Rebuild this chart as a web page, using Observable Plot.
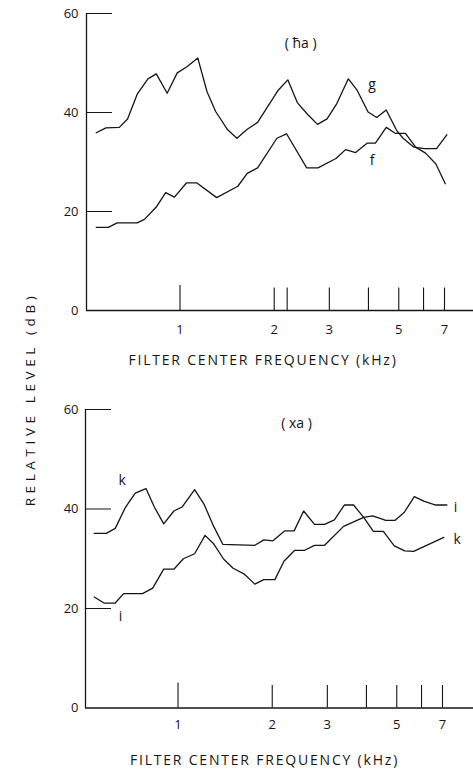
<!DOCTYPE html>
<html>
<head>
<meta charset="utf-8">
<script src="https://cdn.jsdelivr.net/npm/d3@7"></script>
<script src="https://cdn.jsdelivr.net/npm/@observablehq/plot@0.6"></script>
<style>
  body { margin: 0; background: #fff; }
  #fig { position: relative; width: 473px; height: 774px; font-family: "Open Sans", sans-serif; color: #111; background: #fff; }
  #fig svg { display: block; position: absolute; left: 0; z-index: 1; }
  #ylab {
    position: absolute; left: 30px; top: 399px; z-index: 5;
    transform: translate(-50%, -50%) rotate(-90deg);
    white-space: nowrap; font-size: 13.5px; letter-spacing: 4.6px; color: #151515;
  }
</style>
</head>
<body>
<div id="fig"><div id="ylab">RELATIVE LEVEL (dB)</div></div>
<script>
// Spectra of the two pharyngeal fricatives, level (dB) per filter centre frequency (kHz)

// (ħa) panel
const gFreq  = [0.54, 0.58, 0.64, 0.68, 0.73, 0.79, 0.84, 0.91, 0.98, 1.05, 1.14, 1.22, 1.30, 1.42, 1.52, 1.64, 1.77, 2.06, 2.21, 2.37, 2.55, 2.75, 2.95, 3.17, 3.45, 3.68, 3.99, 4.25, 4.56, 4.92, 5.16, 5.59, 6.04, 6.60, 7.12];
const gLevel = [35.9, 36.9, 37.0, 38.7, 43.7, 46.8, 47.8, 43.9, 48.0, 49.2, 51.0, 44.2, 40.2, 36.5, 34.8, 36.6, 38.0, 44.5, 46.6, 42.0, 39.7, 37.6, 38.7, 41.8, 46.8, 44.5, 40.1, 39.0, 40.5, 36.4, 34.8, 33.0, 32.7, 32.7, 35.5];
const fFreq  = [0.54, 0.59, 0.63, 0.73, 0.77, 0.84, 0.90, 0.96, 1.05, 1.13, 1.31, 1.53, 1.64, 1.77, 2.04, 2.19, 2.54, 2.76, 3.15, 3.38, 3.64, 3.96, 4.21, 4.56, 4.87, 5.25, 5.66, 6.09, 6.57, 7.04];
const fLevel = [16.8, 16.8, 17.7, 17.7, 18.4, 20.9, 23.8, 22.9, 25.8, 25.8, 22.8, 25.1, 27.7, 28.8, 34.8, 35.7, 28.8, 28.8, 30.7, 32.5, 31.9, 33.8, 33.8, 37.0, 35.8, 35.8, 33.0, 31.8, 29.6, 25.6];

// (xa) panel
const kFreq  = [0.54, 0.59, 0.63, 0.68, 0.73, 0.79, 0.84, 0.90, 0.97, 1.03, 1.13, 1.21, 1.30, 1.39, 1.76, 1.88, 2.01, 2.19, 2.35, 2.52, 2.73, 2.94, 3.16, 3.40, 3.64, 3.92, 4.21, 4.53, 4.91, 5.30, 5.66, 7.07];
const kLevel = [35.1, 35.1, 36.1, 40.4, 43.2, 44.1, 40.4, 37.0, 39.6, 40.4, 43.9, 41.0, 36.5, 32.9, 32.7, 33.8, 33.6, 35.6, 35.6, 39.6, 36.9, 36.9, 37.8, 40.8, 40.8, 38.3, 35.5, 35.5, 32.6, 31.6, 31.5, 34.3];
const iFreq  = [0.54, 0.58, 0.63, 0.67, 0.77, 0.83, 0.90, 0.97, 1.04, 1.13, 1.22, 1.30, 1.40, 1.50, 1.63, 1.76, 1.88, 2.04, 2.18, 2.36, 2.54, 2.73, 2.94, 3.38, 3.61, 3.92, 4.19, 4.61, 4.93, 5.28, 5.69, 6.10, 6.66, 7.23];
const iLevel = [22.3, 21.1, 21.1, 23.0, 23.0, 24.1, 27.9, 27.9, 30.0, 31.0, 34.7, 33.0, 29.9, 28.1, 26.9, 24.9, 25.8, 25.8, 29.5, 31.7, 31.7, 32.7, 32.7, 36.5, 37.3, 38.3, 38.6, 37.7, 37.7, 39.3, 42.5, 41.6, 40.8, 40.8];

// axes
const topTickFreqs    = [1, 2, 2.2, 3, 4, 5, 6, 7];
const bottomTickFreqs = [1, 2, 3, 4, 5, 6, 7];
const freqLabels      = [1, 2, 3, 5, 7];
const levelTicks      = [0, 20, 40, 60];
const xTitle = "FILTER CENTER FREQUENCY (kHz)";

const ink = "#151515";
const W = 473;
const FONT = "'Open Sans', sans-serif";

function rows(name, freq, level) {
  return freq.map((f, i) => ({curve: name, freq: f, level: level[i]}));
}

function panel({data, ticks, height, marginTop, marginBottom, marginLeft, xDomain,
                labelPad, yLabelPad, titleDx, titleDy, notes}) {
  const innerW = W - marginLeft;
  const innerH = height - marginTop - marginBottom;
  const svg = Plot.plot({
    width: W, height, marginTop, marginBottom, marginLeft, marginRight: 0,
    x: {type: "log", domain: xDomain},
    y: {domain: [0, 60]},
    style: {fontFamily: FONT, fontSize: "13px", color: ink, background: "transparent", overflow: "visible"},
    marks: [
      // baseline and vertical axis
      Plot.ruleY([0], {stroke: ink, strokeWidth: 1.3}),
      Plot.ruleX([xDomain[0]], {y1: 0, y2: 60, stroke: ink, strokeWidth: 1.3}),
      // level ticks pointing into the plot
      Plot.ruleY(levelTicks.filter(d => d > 0), {stroke: ink, strokeWidth: 1, insetRight: innerW - 26}),
      // frequency ticks standing on the baseline
      Plot.ruleX(ticks.filter(d => d === 1), {stroke: ink, strokeWidth: 1.1, insetTop: innerH - 25}),
      Plot.ruleX(ticks.filter(d => d !== 1), {stroke: ink, strokeWidth: 1.1, insetTop: innerH - 22.5}),
      Plot.axisY({ticks: levelTicks, tickSize: 0, tickPadding: yLabelPad, label: null, fontSize: 13}),
      Plot.axisX({ticks: freqLabels, tickSize: 0, tickPadding: labelPad, label: null,
                  tickFormat: d => String(d), fontSize: 13}),
      Plot.text([xTitle], {frameAnchor: "bottom", dx: titleDx, dy: titleDy, fontSize: 14, fill: ink}),
      // spectra
      Plot.line(data, {x: "freq", y: "level", z: "curve", stroke: ink, strokeWidth: 1.3, curve: "linear"}),
      Plot.text(notes, {x: "x", y: "y", text: "text", fontSize: 14, fill: ink})
    ]
  });
  d3.select(svg).selectAll("text")
    .filter(function () { return this.textContent === xTitle; })
    .style("letter-spacing", "1.8px");
  return svg;
}

const fig = document.getElementById("fig");

const topSvg = panel({
  data: [...rows("g", gFreq, gLevel), ...rows("f", fFreq, fLevel)],
  ticks: topTickFreqs,
  height: 380, marginTop: 13, marginBottom: 70, marginLeft: 86,
  xDomain: [0.5027, 8.664],
  labelPad: 14, yLabelPad: 8, titleDx: -17, titleDy: 54,
  notes: [
    {text: "( ħa )", x: 2.43, y: 54.0},
    {text: "g", x: 4.11, y: 45.6},
    {text: "f", x: 4.11, y: 30.2}
  ]
});
topSvg.style.top = "0px";
fig.appendChild(topSvg);

const bottomSvg = panel({
  data: [...rows("k", kFreq, kLevel), ...rows("i", iFreq, iLevel)],
  ticks: bottomTickFreqs,
  height: 394, marginTop: 29, marginBottom: 66.5, marginLeft: 85,
  xDomain: [0.5062, 8.794],
  labelPad: 12, yLabelPad: 7, titleDx: -15, titleDy: 57,
  notes: [
    {text: "( xa )", x: 2.39, y: 57.2},
    {text: "k", x: 0.663, y: 45.7},
    {text: "i", x: 0.655, y: 18.4},
    {text: "i", x: 7.70, y: 40.2},
    {text: "k", x: 7.80, y: 33.8}
  ]
});
bottomSvg.style.top = "380px";
fig.appendChild(bottomSvg);
</script>
</body>
</html>
